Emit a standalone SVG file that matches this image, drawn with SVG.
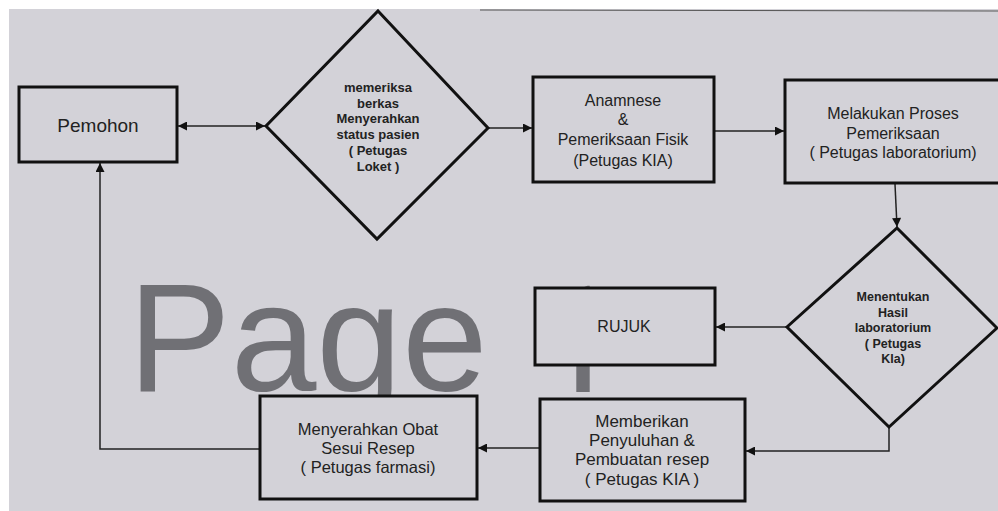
<svg xmlns="http://www.w3.org/2000/svg" width="998" height="511" viewBox="0 0 998 511">
  <style>
    .bg { fill: #d3d2d8; }
    .box { fill: #d3d2d8; stroke: #111; stroke-width: 3; }
    .conn { fill: none; stroke: #222; stroke-width: 1.5; }
    .t { font-family: "Liberation Sans", Arial, sans-serif; fill: #222; text-anchor: middle; }
    .t16 { font-size: 16px; }
    .t17 { font-size: 17px; }
    .tb { font-weight: bold; font-size: 13px; }
    .tb2 { font-weight: bold; font-size: 12.5px; }
    .wm { font-family: "Liberation Sans", Arial, sans-serif; font-size: 154px; fill: #707075; }
    .wm1 { font-family: Roboto, "Liberation Sans", sans-serif; font-size: 148px; fill: #707075; }
  </style>
  <defs>
    <marker id="ah" viewBox="0 0 10 10" refX="10" refY="5" markerWidth="10" markerHeight="9" markerUnits="userSpaceOnUse" orient="auto-start-reverse">
      <path d="M0,0 L10,5 L0,10 z" fill="#111"/>
    </marker>
  </defs>

  <!-- screen background -->
  <rect class="bg" x="0" y="0" width="998" height="511"/>
  <rect x="0" y="0" width="998" height="9" fill="#ffffff"/>
  <rect x="0" y="0" width="9" height="511" fill="#ffffff"/>
  <line x1="480" y1="10" x2="998" y2="11" stroke="#555" stroke-width="1"/>

  <!-- watermark -->
  <g id="watermark">
    <text class="wm" x="128" y="391">Page</text>
    <text class="wm1" x="537" y="392">1</text>
  </g>

  <!-- connectors -->
  <g id="connectors">
    <line class="conn" x1="178" y1="126" x2="265" y2="126" marker-start="url(#ah)" marker-end="url(#ah)"/>
    <line class="conn" x1="488" y1="128" x2="532" y2="128" marker-end="url(#ah)"/>
    <line class="conn" x1="715" y1="131" x2="784" y2="131" marker-end="url(#ah)"/>
    <line class="conn" x1="895" y1="184" x2="897" y2="227" marker-end="url(#ah)"/>
    <line class="conn" x1="787" y1="327" x2="716" y2="327" marker-end="url(#ah)"/>
    <polyline class="conn" points="889,427 889,451 746,451" marker-end="url(#ah)"/>
    <line class="conn" x1="540" y1="448" x2="478" y2="448" marker-end="url(#ah)"/>
    <polyline class="conn" points="260,449 100,449 100,163" marker-end="url(#ah)"/>
  </g>

  <g id="pemohon">
    <rect class="box" x="19" y="87" width="158" height="75"/>
    <text class="t" x="98" y="132" font-size="19">Pemohon</text>
  </g>

  <g id="loket">
    <polygon class="box" points="378,11 488,128 377,239 266,126"/>
    <text class="t tb" x="378" y="92">memeriksa</text>
    <text class="t tb" x="378" y="107.5">berkas</text>
    <text class="t tb" x="378" y="123">Menyerahkan</text>
    <text class="t tb" x="378" y="139">status pasien</text>
    <text class="t tb" x="378" y="155">( Petugas</text>
    <text class="t tb" x="378" y="171">Loket )</text>
  </g>

  <g id="anamnese">
    <rect class="box" x="533" y="77" width="181" height="105"/>
    <text class="t t16" x="623" y="106">Anamnese</text>
    <text class="t t16" x="623" y="125">&amp;</text>
    <text class="t t16" x="623" y="145">Pemeriksaan Fisik</text>
    <text class="t t16" x="623" y="166">(Petugas KIA)</text>
  </g>

  <g id="laboratorium">
    <rect class="box" x="785" y="80" width="220" height="103"/>
    <text class="t t16" x="893" y="119">Melakukan Proses</text>
    <text class="t t16" x="893" y="139">Pemeriksaan</text>
    <text class="t t16" x="893" y="158">( Petugas laboratorium)</text>
  </g>

  <g id="hasil">
    <polygon class="box" points="897,228 997,328 889,427 787,327"/>
    <text class="t tb2" x="893" y="301">Menentukan</text>
    <text class="t tb2" x="893" y="316.5">Hasil</text>
    <text class="t tb2" x="893" y="332">laboratorium</text>
    <text class="t tb2" x="893" y="347.5">( Petugas</text>
    <text class="t tb2" x="893" y="363">Kla)</text>
  </g>

  <g id="rujuk">
    <rect class="box" x="535" y="288" width="180" height="77"/>
    <text class="t t16" x="624" y="332">RUJUK</text>
  </g>

  <g id="penyuluhan">
    <rect class="box" x="540" y="399" width="205" height="102"/>
    <text class="t t17" x="642" y="427">Memberikan</text>
    <text class="t t17" x="642" y="446">Penyuluhan &amp;</text>
    <text class="t t17" x="642" y="465">Pembuatan resep</text>
    <text class="t t17" x="642" y="485">( Petugas KIA )</text>
  </g>

  <g id="farmasi">
    <rect class="box" x="260" y="396" width="217" height="103"/>
    <text class="t" x="368" y="435" font-size="16.5">Menyerahkan Obat</text>
    <text class="t" x="368" y="454" font-size="16.5">Sesui Resep</text>
    <text class="t" x="368" y="473" font-size="16.5">( Petugas farmasi)</text>
  </g>
</svg>
